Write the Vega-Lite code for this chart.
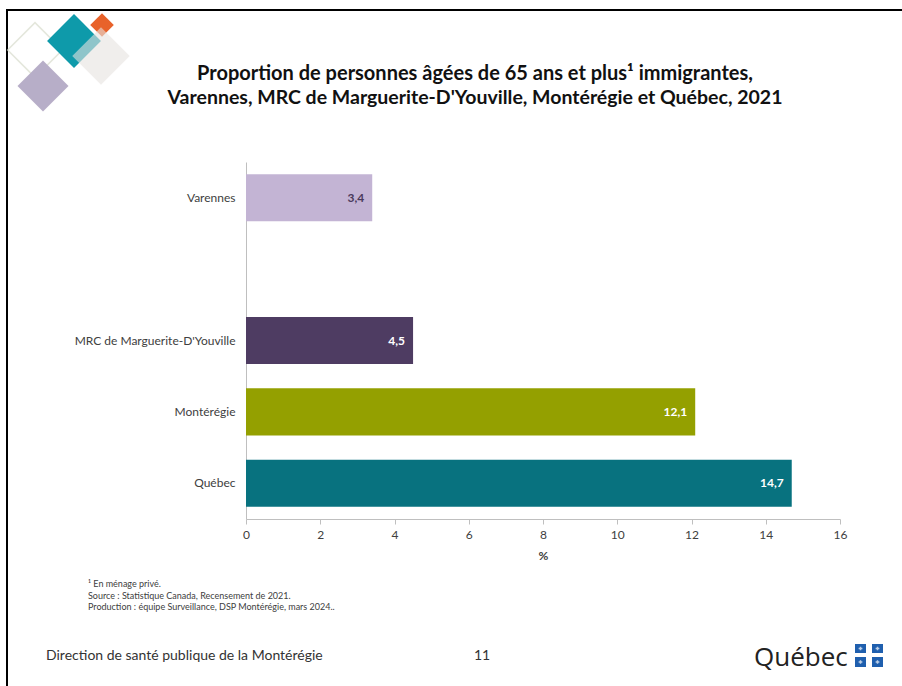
{
  "$schema": "https://vega.github.io/schema/vega-lite/v6.json",
  "width": 902,
  "height": 686,
  "autosize": {"type": "none"},
  "padding": 0,
  "background": "white",
  "config": {"view": {"stroke": null}, "font": "Lato"},
  "datasets": {
    "bars": [
      {"region": "Varennes", "pct": 3.4, "label": "3,4"},
      {"region": "MRC de Marguerite-D'Youville", "pct": 4.5, "label": "4,5"},
      {"region": "Montérégie", "pct": 12.1, "label": "12,1"},
      {"region": "Québec", "pct": 14.7, "label": "14,7"}
    ],
    "one": [{}]
  },
  "layer": [
    {"data": {"name": "one"}, "mark": {"type": "rule", "stroke": "black", "strokeWidth": 2}, "encoding": {"x": {"value": 6}, "x2": {"value": 902}, "y": {"value": 10}}},
    {"data": {"name": "one"}, "mark": {"type": "rule", "stroke": "black", "strokeWidth": 2}, "encoding": {"x": {"value": 7}, "y": {"value": 9}, "y2": {"value": 686}}},
    {"data": {"name": "one"}, "mark": {"type": "point", "shape": "diamond", "filled": false, "stroke": "#d9ddcd", "strokeWidth": 1.5, "size": 3000, "x": 35, "y": 50}, "encoding": {}},
    {"data": {"name": "one"}, "mark": {"type": "point", "shape": "diamond", "filled": true, "fill": "#0e9aaa", "opacity": 1, "size": 2900, "x": 74, "y": 41}, "encoding": {}},
    {"data": {"name": "one"}, "mark": {"type": "point", "shape": "diamond", "filled": true, "fill": "#e8622a", "opacity": 1, "size": 560, "x": 102, "y": 25}, "encoding": {}},
    {"data": {"name": "one"}, "mark": {"type": "point", "shape": "diamond", "filled": true, "fill": "#e6e2df", "opacity": 0.6, "size": 3300, "x": 101, "y": 56}, "encoding": {}},
    {"data": {"name": "one"}, "mark": {"type": "point", "shape": "diamond", "filled": true, "fill": "#b7aec8", "opacity": 1, "size": 2600, "x": 43, "y": 86}, "encoding": {}},
    {"data": {"name": "one"}, "mark": {"type": "text", "text": "Proportion de personnes âgées de 65 ans et plus¹ immigrantes,", "x": 475, "y": 80, "align": "center", "baseline": "alphabetic", "fontSize": 20, "fontWeight": "bold", "color": "#111111"}, "encoding": {}},
    {"data": {"name": "one"}, "mark": {"type": "text", "text": "Varennes, MRC de Marguerite-D'Youville, Montérégie et Québec, 2021", "x": 475, "y": 104, "align": "center", "baseline": "alphabetic", "fontSize": 19.5, "fontWeight": "bold", "color": "#111111"}, "encoding": {}},
    {
      "data": {"name": "bars"},
      "mark": {"type": "bar"},
      "encoding": {
        "y": {
          "field": "region", "type": "nominal",
          "scale": {"domain": ["Varennes", " ", "MRC de Marguerite-D'Youville", "Montérégie", "Québec"], "range": [162, 519], "paddingInner": 0.34, "paddingOuter": 0.17},
          "axis": {"orient": "left", "offset": -246, "title": null, "ticks": false, "domainColor": "#bfbfbf", "labelPadding": 11, "labelFontSize": 12, "labelColor": "#404040", "labelFont": "Lato"}
        },
        "x": {
          "field": "pct", "type": "quantitative",
          "scale": {"domain": [0, 16], "range": [246, 840], "nice": false},
          "axis": {"orient": "bottom", "offset": -167, "values": [0, 2, 4, 6, 8, 10, 12, 14, 16], "format": "d", "grid": false, "labelFlush": false, "tickColor": "#bfbfbf", "tickSize": 5, "domainColor": "#bfbfbf", "labelFontSize": 12, "labelColor": "#404040", "labelPadding": 5, "labelFont": "Lato", "title": "%", "titleFontSize": 12, "titleFontWeight": "bold", "titleColor": "#404040", "titlePadding": 10, "titleFont": "Lato"}
        },
        "color": {
          "field": "region", "type": "nominal",
          "scale": {"domain": ["Varennes", "MRC de Marguerite-D'Youville", "Montérégie", "Québec"], "range": ["#c3b4d4", "#4e3c62", "#94a000", "#08727f"]},
          "legend": null
        }
      }
    },
    {
      "data": {"name": "bars"},
      "mark": {"type": "text", "align": "right", "dx": -8, "fontSize": 12, "fontWeight": "bold"},
      "encoding": {
        "y": {"field": "region", "type": "nominal"},
        "x": {"field": "pct", "type": "quantitative"},
        "text": {"field": "label"},
        "color": {"condition": {"test": "datum.region === 'Varennes'", "value": "#4a3a5c"}, "value": "white"}
      }
    },
    {"data": {"name": "one"}, "mark": {"type": "text", "text": "¹ En ménage privé.", "x": 88, "y": 584, "align": "left", "baseline": "middle", "fontSize": 9, "color": "#404040"}, "encoding": {}},
    {"data": {"name": "one"}, "mark": {"type": "text", "text": "Source : Statistique Canada, Recensement de 2021.", "x": 88, "y": 596, "align": "left", "baseline": "middle", "fontSize": 9, "color": "#404040"}, "encoding": {}},
    {"data": {"name": "one"}, "mark": {"type": "text", "text": "Production : équipe Surveillance, DSP Montérégie, mars 2024..", "x": 88, "y": 607, "align": "left", "baseline": "middle", "fontSize": 9, "color": "#404040"}, "encoding": {}},
    {"data": {"name": "one"}, "mark": {"type": "text", "text": "Direction de santé publique de la Montérégie", "x": 46, "y": 656, "align": "left", "baseline": "middle", "fontSize": 14, "color": "#333333"}, "encoding": {}},
    {"data": {"name": "one"}, "mark": {"type": "text", "text": "11", "x": 474, "y": 656, "align": "left", "baseline": "middle", "fontSize": 14, "color": "#333333"}, "encoding": {}},
    {"data": {"name": "one"}, "mark": {"type": "text", "text": "Québec", "x": 754, "y": 666, "align": "left", "baseline": "alphabetic", "fontSize": 26, "font": "Open Sans", "color": "#222222"}, "encoding": {}},
    {"data": {"name": "one"}, "mark": {"type": "rect", "fill": "#1f5fae"}, "encoding": {"x": {"value": 855}, "x2": {"value": 866}, "y": {"value": 644}, "y2": {"value": 653}}},
    {"data": {"name": "one"}, "mark": {"type": "rect", "fill": "#1f5fae"}, "encoding": {"x": {"value": 872}, "x2": {"value": 883}, "y": {"value": 644}, "y2": {"value": 653}}},
    {"data": {"name": "one"}, "mark": {"type": "rect", "fill": "#1f5fae"}, "encoding": {"x": {"value": 855}, "x2": {"value": 866}, "y": {"value": 657}, "y2": {"value": 667}}},
    {"data": {"name": "one"}, "mark": {"type": "rect", "fill": "#1f5fae"}, "encoding": {"x": {"value": 872}, "x2": {"value": 883}, "y": {"value": 657}, "y2": {"value": 667}}},
    {"data": {"name": "one"}, "mark": {"type": "point", "shape": "cross", "filled": true, "fill": "white", "size": 14, "x": 860.5, "y": 648.5}, "encoding": {}},
    {"data": {"name": "one"}, "mark": {"type": "point", "shape": "cross", "filled": true, "fill": "white", "size": 14, "x": 877.5, "y": 648.5}, "encoding": {}},
    {"data": {"name": "one"}, "mark": {"type": "point", "shape": "cross", "filled": true, "fill": "white", "size": 14, "x": 860.5, "y": 662}, "encoding": {}},
    {"data": {"name": "one"}, "mark": {"type": "point", "shape": "cross", "filled": true, "fill": "white", "size": 14, "x": 877.5, "y": 662}, "encoding": {}}
  ]
}
